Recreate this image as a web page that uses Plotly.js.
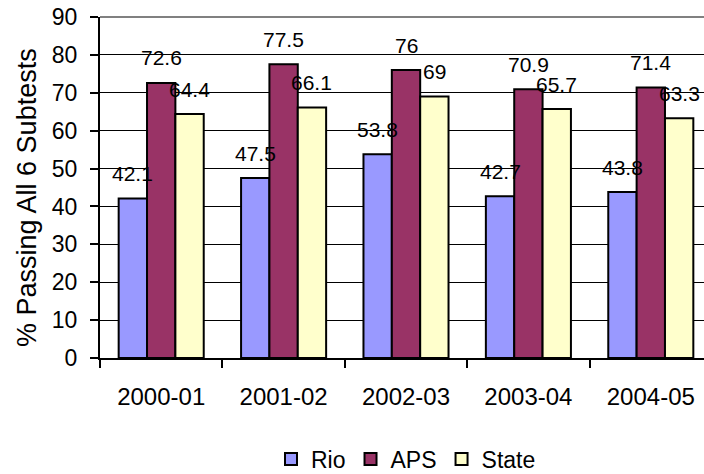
<!DOCTYPE html>
<html>
<head>
<meta charset="utf-8">
<script src="https://cdn.plot.ly/plotly-3.0.1.min.js"></script>
<style>
html, body { margin: 0; padding: 0; overflow: hidden; background: #fff; }
#chart { width: 704px; height: 474px; }
</style>
</head>
<body>
<div id="chart"></div>
<script>
// ---- data ----
const categories = ['2000-01', '2001-02', '2002-03', '2003-04', '2004-05'];
const seriesNames = ['Rio', 'APS', 'State'];
const rioValues = [42.1, 47.5, 53.8, 42.7, 43.8];
const apsValues = [72.6, 77.5, 76, 70.9, 71.4];
const stateValues = [64.4, 66.1, 69, 65.7, 63.3];
const yTickValues = [0, 10, 20, 30, 40, 50, 60, 70, 80, 90];
const yAxisTitle = '% Passing All 6 Subtests';

// ---- styling ----
const colors = ['#9999FF', '#993366', '#FFFFCC'];
const FONT = 'Liberation Sans, Arial, sans-serif';
const W = 704, H = 474;
const margin = { l: 100, r: 0, t: 17, b: 116, pad: 0, autoexpand: false };
const categoryPx = 122.4;
const plotW = W - margin.l - margin.r;
const plotH = H - margin.t - margin.b;
const xMax = -0.5 + plotW / categoryPx;
const bargap = 0.305;
const barPx = categoryPx * (1 - bargap) / 3;

const allSeries = [rioValues, apsValues, stateValues];

const traces = allSeries.map((vals, i) => ({
  type: 'bar',
  name: seriesNames[i],
  x: categories,
  y: vals,
  marker: { color: colors[i], line: { color: '#000', width: 2 } },
  hoverinfo: 'skip'
}));

const annotations = [];
allSeries.forEach((vals, i) => {
  vals.forEach((v, j) => {
    annotations.push({
      x: categories[j], y: v, xref: 'x', yref: 'y',
      text: String(v), showarrow: false,
      xanchor: 'center', yanchor: 'middle',
      xshift: (i - 1) * barPx, yshift: 25,
      font: { family: FONT, size: 21, color: '#000' }
    });
  });
});

// y-axis title placed as rotated text to the left of the axis
annotations.push({
  xref: 'paper', yref: 'paper',
  x: (27 - margin.l) / plotW, y: (plotH - (198 - margin.t)) / plotH,
  xanchor: 'center', yanchor: 'middle',
  text: yAxisTitle, textangle: -90, showarrow: false,
  font: { family: FONT, size: 27, color: '#000' }
});

const layout = {
  width: W, height: H,
  margin: margin,
  paper_bgcolor: '#fff', plot_bgcolor: '#fff',
  font: { family: FONT, color: '#000' },
  barmode: 'group',
  bargap: bargap,
  bargroupgap: 0,
  showlegend: true,
  legend: {
    orientation: 'h', x: (406 - margin.l) / plotW, xanchor: 'center',
    y: -(459 - (H - margin.b)) / plotH, yanchor: 'middle',
    font: { family: FONT, size: 23, color: '#000' },
    itemclick: false, itemdoubleclick: false
  },
  xaxis: {
    type: 'category',
    range: [-0.5, xMax],
    showgrid: false, zeroline: false,
    showline: true, linecolor: '#000', linewidth: 2,
    ticks: 'outside', tickson: 'boundaries', ticklen: 8, tickwidth: 2, tickcolor: '#000',
    ticklabelstandoff: 16,
    tickfont: { family: FONT, size: 24, color: '#000' },
    fixedrange: true
  },
  yaxis: {
    range: [0, 90],
    tickmode: 'array', tickvals: yTickValues, ticktext: yTickValues.map(String),
    showgrid: true, gridcolor: '#000', gridwidth: 1,
    zeroline: false,
    showline: true, linecolor: '#000', linewidth: 2,
    ticks: 'outside', ticklen: 8, tickwidth: 2, tickcolor: '#000',
    ticklabelstandoff: 8,
    tickfont: { family: FONT, size: 23, color: '#000' },
    fixedrange: true
  },
  shapes: [{
    type: 'line', xref: 'paper', yref: 'paper', x0: 0, x1: 1, y0: 1, y1: 1,
    line: { color: '#808080', width: 2 }
  }],
  annotations: annotations
};

Plotly.newPlot('chart', traces, layout, { displayModeBar: false, staticPlot: true });
</script>
</body>
</html>
